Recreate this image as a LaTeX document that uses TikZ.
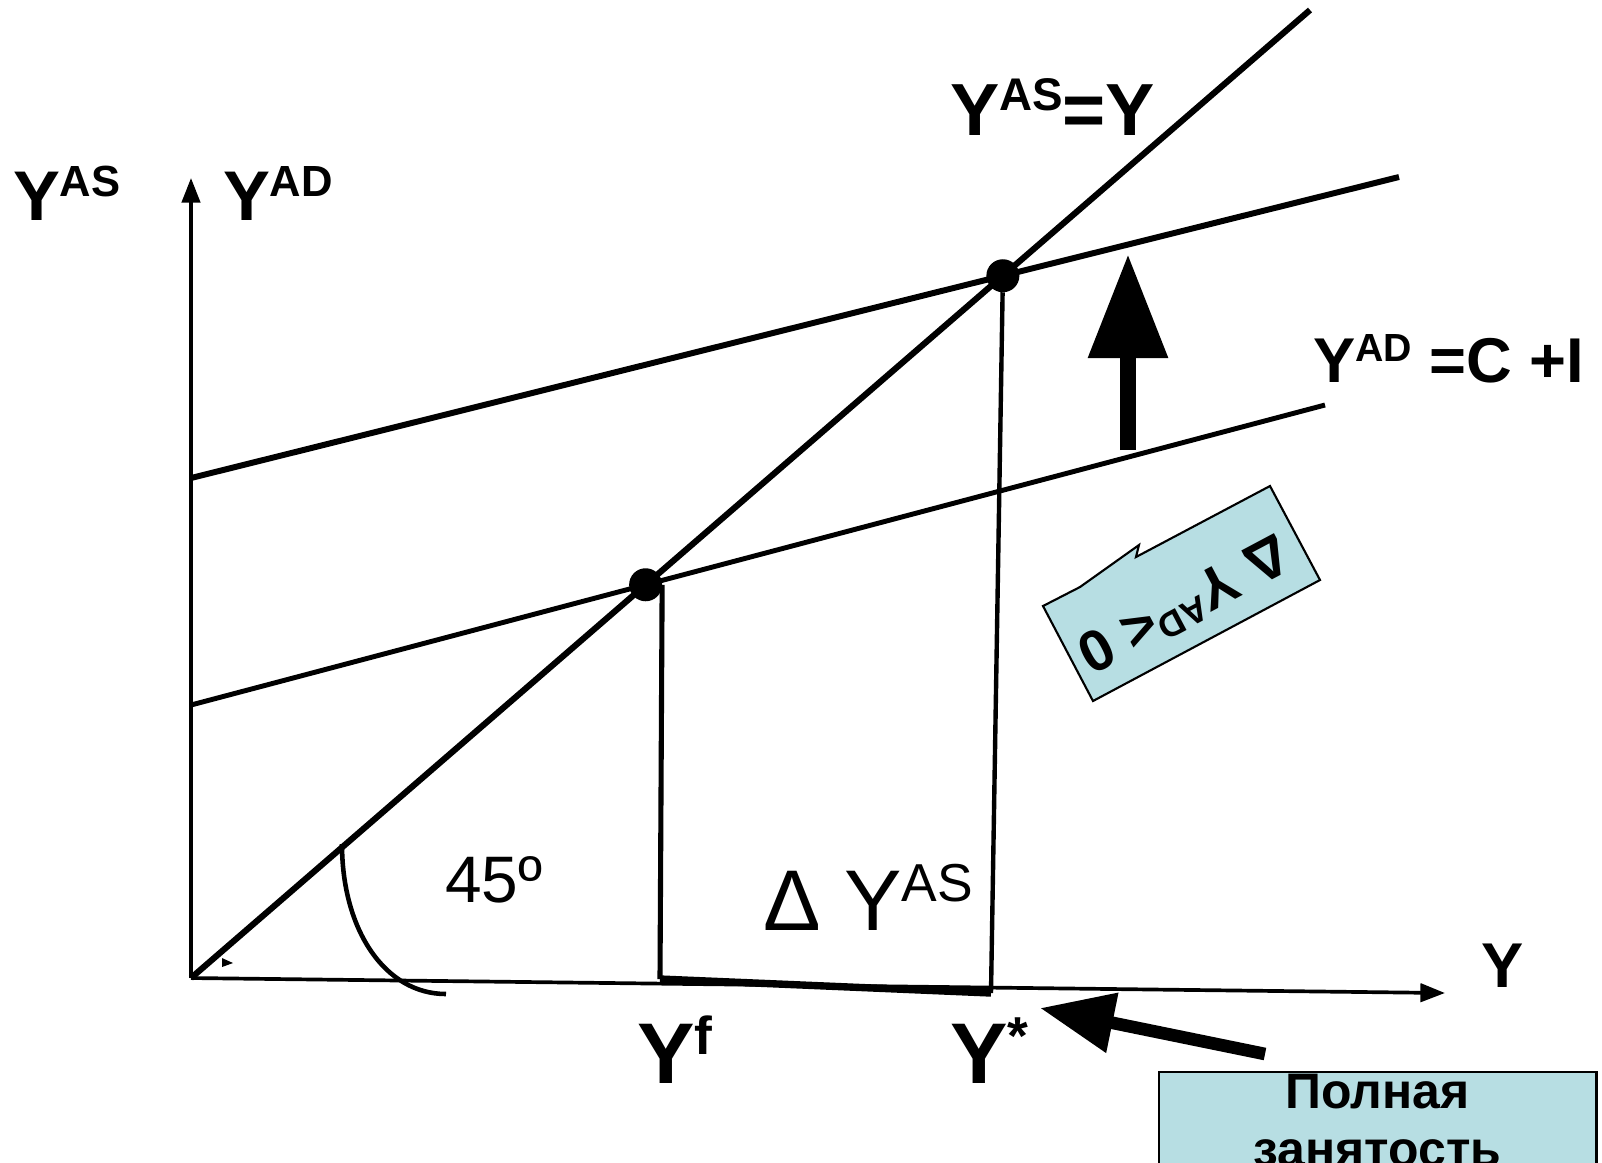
\documentclass[tikz,border=0pt]{standalone}
\usepackage{graphicx}
\usepackage{fontspec}
\setmainfont{Liberation Sans}
\usetikzlibrary{arrows.meta}
\definecolor{paleblue}{RGB}{183,222,227}
\newcommand{\upidx}[1]{\raisebox{0.33em}{\scalebox{0.62}{#1}}}

\begin{document}
\begin{tikzpicture}[x=0.01cm,y=-0.01cm,every node/.style={inner sep=0pt,outer sep=0pt},
  axis/.style={line width=1.05pt,-{Triangle[length=7pt,width=5.2pt]}},
  lbl/.style={anchor=base west,font=\bfseries\fontsize{20}{24}\selectfont},
  biglbl/.style={anchor=base west,font=\bfseries\fontsize{24.5}{29}\selectfont},
  plainlbl/.style={anchor=base west,font=\fontsize{18.7}{22}\selectfont},
  dot/.style={circle,fill,minimum size=0.33cm},
  callout/.style={draw,fill=paleblue,line width=0.6pt,line join=miter},
  fullbox/.style={draw,fill=paleblue,line width=0.8pt,align=center,inner xsep=0pt,inner ysep=0.5pt,
    font=\bfseries\fontsize{14.2}{16.5}\selectfont}]
\useasboundingbox (0,0) rectangle (1602,1162);
\clip (0,0) rectangle (1602,1162);
\coordinate (O) at (191,978);
\coordinate (ytop) at (191,178);
\coordinate (xend) at (1445,993);
\coordinate (diagend) at (1310,10);
\coordinate (adlo1) at (191,705);
\coordinate (adlo2) at (1325,405);
\coordinate (adhi1) at (191,478);
\coordinate (adhi2) at (1399,177);
\coordinate (yf0) at (660,979);
\coordinate (ys0) at (991,993);
\draw[axis] (O) -- (ytop);
\draw[axis] (O) -- (xend);
\fill (222,958) -- (233,963) -- (222,967) -- cycle;
\draw[line width=1.75pt] (O) -- (diagend);
\draw[line width=1.7pt] (adhi1) -- (adhi2);
\draw[line width=1.4pt] (adlo1) -- (adlo2);
\node[dot] (e1) at (intersection of O--diagend and adlo1--adlo2) {};
\node[dot] (e2) at (intersection of O--diagend and adhi1--adhi2) {};
\draw[line width=1.45pt] (e1.east) -- (yf0);
\draw[line width=1.25pt] (e2) -- (ys0);
\draw[line width=2.1pt] (yf0) -- (ys0);
\draw[line width=1.3pt] (342,844) .. controls (342,930) and (385,994) .. (446,994);
\coordinate (upfrom) at (1128,450);
\coordinate (upto) at (1128,254);
\draw[line width=4.6pt,-{Triangle[length=29.6pt,width=21.6pt]}] (upfrom) -- (upto);
\coordinate (fefrom) at (1265,1054);
\coordinate (feto) at (1040,1008);
\draw[line width=3.6pt,-{Triangle[length=21pt,width=16.5pt]}] (fefrom) -- (feto);
\draw[callout] (1043,606) -- (1080,587) -- (1139,545) -- (1136,557) -- (1270,486) -- (1320,580) -- (1093,701) -- cycle;
\node[rotate=208,font=\bfseries\fontsize{16.5}{20}\selectfont] (dad) at (1185,606) {Δ Y\upidx{AD}< 0};
\node[lbl] (yas) at (13,220) {Y\upidx{AS}};
\node[lbl] (yad) at (223,220) {Y\upidx{AD}};
\node[lbl,font=\bfseries\fontsize{21}{25}\selectfont] (diaglbl) at (950,135) {Y\upidx{AS}=Y};
\node[lbl,font=\bfseries\fontsize{18}{22}\selectfont] (adlbl) at (1313,382) {Y\upidx{AD} =C +I};
\node[lbl,font=\bfseries\fontsize{18}{22}\selectfont] (ylbl) at (1481,987) {Y};
\node[biglbl] (yf) at (637,1083) {Y\upidx{f}};
\node[biglbl] (ystar) at (950,1083) {Y\upidx{*}};
\node[plainlbl] (angle) at (445,902) {45º};
\node[plainlbl,font=\fontsize{24.5}{29}\selectfont] (dyas) at (763,930) {Δ Y\upidx{AS}};
\node[fullbox,anchor=north west,text width=4.37cm] (full) at (1159,1072) {Полная\\занятость};
\end{tikzpicture}
\end{document}
